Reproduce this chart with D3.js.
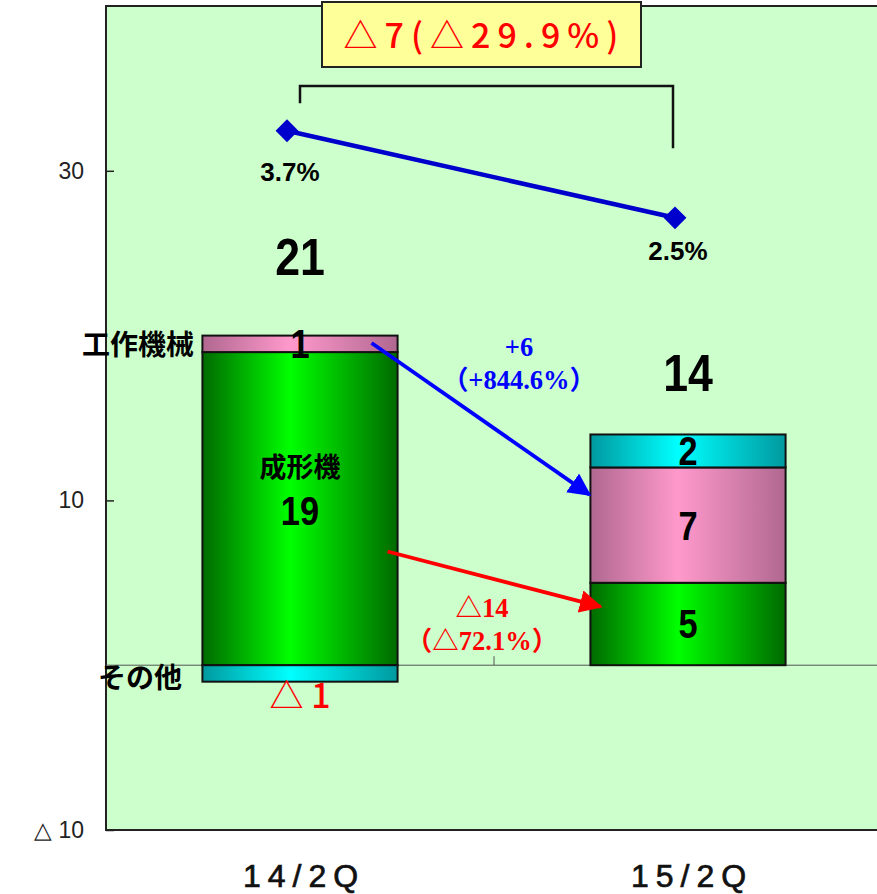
<!DOCTYPE html>
<html>
<head>
<meta charset="utf-8">
<title>受注高推移</title>
<style>
  body { margin: 0; background: #fff; }
  svg text { font-family: "Noto Sans CJK JP", "Noto Sans", sans-serif; }
  .num { font-family: "Liberation Sans", Arial, sans-serif !important; font-weight: bold; }
  .arial { font-family: "Liberation Sans", Arial, sans-serif !important; }
  .serif { font-family: "Liberation Serif", "Noto Sans CJK JP", serif !important; font-weight: bold; }
</style>
</head>
<body>
<svg id="chart" width="877" height="894"></svg>
<script src="https://cdn.jsdelivr.net/npm/d3@7/dist/d3.min.js"></script>
<script>
// data
const categories = ['14/2Q', '15/2Q'];
const segments = ['その他', '成形機', '工作機械'];
const other   = [-1, 2];
const molding = [19, 5];
const machine = [1, 7];
const totals  = [21, 14];
const totalLabels = ['21', '14'];
const ratio = [3.7, 2.5];
const ratioLabels = ['3.7%', '2.5%'];
const yTicks = [-10, 10, 30];
const yTickLabels = ['△ 10', '10', '30'];
const diffLabel = '△7(△29.9%)';
const machineChange = ['+6', '（+844.6%）'];
const moldingChange = ['△14', '（△72.1%）'];

const svg = d3.select('#chart');
const pLeft = 106, pTop = 6, pBottom = 830, pRight = 882;

const x = d3.scaleBand().domain(categories).range([pLeft, pRight]).padding(0);
const y = d3.scaleLinear().domain([-10, 40]).range([pBottom, pTop]);
const y2 = d3.scaleLinear().domain([-5.94, 5.42]).range([pBottom, pTop]);
const barW = x.bandwidth() * 0.503;
const barX = c => x(c) + (x.bandwidth() - barW) / 2;
const cx = c => x(c) + x.bandwidth() / 2;

// gradients
const defs = svg.append('defs');
function grad(id, edge, mid) {
  const g = defs.append('linearGradient').attr('id', id).attr('x1', 0).attr('x2', 1).attr('y1', 0).attr('y2', 0);
  g.append('stop').attr('offset', '0%').attr('stop-color', edge);
  g.append('stop').attr('offset', '45%').attr('stop-color', mid);
  g.append('stop').attr('offset', '100%').attr('stop-color', edge);
}
grad('gGreen', '#006a00', '#00ff00');
grad('gPink', '#b06890', '#ff99cc');
grad('gCyan', '#00999f', '#00ffff');
const fills = { 'その他': 'url(#gCyan)', '成形機': 'url(#gGreen)', '工作機械': 'url(#gPink)' };

// plot background
svg.append('rect').attr('x', pLeft).attr('y', pTop).attr('width', pRight - pLeft).attr('height', pBottom - pTop)
  .attr('fill', '#ccffcc').attr('stroke', '#222').attr('stroke-width', 2);

// zero line
svg.append('line').attr('x1', pLeft).attr('x2', pRight).attr('y1', y(0)).attr('y2', y(0))
  .attr('stroke', '#555').attr('stroke-width', 1);
svg.append('line').attr('x1', x(categories[1])).attr('x2', x(categories[1]))
  .attr('y1', y(0)).attr('y2', y(0) - 9).attr('stroke', '#555');

// y axis
const yAxis = svg.append('g').attr('transform', `translate(${pLeft},0)`)
  .call(d3.axisRight(y).tickValues(yTicks).tickSize(8).tickFormat(''));
yAxis.select('.domain').remove();
yAxis.selectAll('line').attr('stroke', '#222').attr('stroke-width', 1.5);
svg.append('g').selectAll('text').data(yTicks).join('text')
  .attr('class', 'arial')
  .attr('x', 84).attr('y', d => y(d)).attr('dy', '0.35em').attr('text-anchor', 'end')
  .attr('font-size', 23).attr('fill', '#222')
  .text((d, i) => yTickLabels[i]);

// stacked bars
const bars = svg.append('g');
categories.forEach((c, i) => {
  const stack = [
    { s: '成形機', y0: 0, y1: molding[i] },
    { s: '工作機械', y0: molding[i], y1: molding[i] + machine[i] },
    other[i] < 0
      ? { s: 'その他', y0: other[i], y1: 0 }
      : { s: 'その他', y0: molding[i] + machine[i], y1: molding[i] + machine[i] + other[i] }
  ];
  bars.selectAll(null).data(stack).join('rect')
    .attr('x', barX(c)).attr('width', barW)
    .attr('y', d => y(d.y1)).attr('height', d => y(d.y0) - y(d.y1))
    .attr('fill', d => fills[d.s]).attr('stroke', '#111').attr('stroke-width', 2);
});

// condensed bold numbers (Arial Narrow look)
const num = (g, xv, yv, t, size) => g.append('text').attr('class', 'num')
  .attr('transform', `translate(${xv},${yv}) scale(0.86,1)`)
  .attr('dy', '0.36em').attr('text-anchor', 'middle').attr('font-size', size).text(t);

// segment labels
const seg = svg.append('g');
num(seg, cx(categories[0]), y(molding[0] + machine[0] / 2), machine[0], 40);
num(seg, cx(categories[0]), y(9.4), molding[0], 40);
num(seg, cx(categories[1]), y(molding[1] + machine[1] + other[1] / 2), other[1], 40);
num(seg, cx(categories[1]), y(molding[1] + machine[1] / 2), machine[1], 40);
num(seg, cx(categories[1]), y(molding[1] / 2), molding[1], 40);
seg.append('text').attr('x', cx(categories[0])).attr('y', y(12.0)).attr('dy', '0.35em')
  .attr('text-anchor', 'middle').attr('font-size', 27).attr('font-weight', 'bold').text(segments[1]);
svg.append('text').attr('x', cx(categories[0])).attr('y', y(other[0]) + 14).attr('dy', '0.35em')
  .attr('text-anchor', 'middle').attr('font-size', 34).attr('font-weight', 500).attr('fill', '#ff0000')
  .text('△ ' + Math.abs(other[0]));

// totals
const tot = svg.append('g');
categories.forEach((c, i) => num(tot, cx(c), y(totals[i] + 3.8), totalLabels[i], 52));

// segment names on left
svg.append('text').attr('x', 194).attr('y', y(molding[0] + machine[0] / 2) + 1).attr('dy', '0.35em')
  .attr('text-anchor', 'end').attr('font-size', 28).attr('font-weight', 'bold').text(segments[2]);
svg.append('text').attr('x', 182).attr('y', y(other[0]) - 3).attr('dy', '0.35em')
  .attr('text-anchor', 'end').attr('font-size', 28).attr('font-weight', 'bold').text(segments[0]);

// ratio line
const lx = c => cx(c) - 13;
svg.append('path').datum(categories)
  .attr('d', d3.line().x(c => lx(c)).y((c, i) => y2(ratio[i])))
  .attr('fill', 'none').attr('stroke', '#0000cc').attr('stroke-width', 4.5);
svg.append('g').selectAll('path').data(categories).join('path')
  .attr('d', d3.symbol(d3.symbolSquare, 260))
  .attr('transform', (c, i) => `translate(${lx(c)},${y2(ratio[i])}) rotate(45)`)
  .attr('fill', '#0000cc');
const ratioLabelDy = [41, 33];
svg.append('g').selectAll('text').data(categories).join('text')
  .attr('class', 'arial')
  .attr('x', c => lx(c) + 3).attr('y', (c, i) => y2(ratio[i]) + ratioLabelDy[i]).attr('dy', '0.36em')
  .attr('text-anchor', 'middle').attr('font-size', 26).attr('font-weight', 'bold')
  .text((c, i) => ratioLabels[i]);

// bracket and difference box
const bx0 = cx(categories[0]), bx1 = lx(categories[1]) - 2;
svg.append('path')
  .attr('d', `M${bx0},${y2(4.08)} V${y2(4.317)} H${bx1} V${y2(3.46)}`)
  .attr('fill', 'none').attr('stroke', '#111').attr('stroke-width', 2.5);
svg.append('rect').attr('x', 322).attr('y', 2).attr('width', 319).attr('height', 65)
  .attr('fill', '#ffff99').attr('stroke', '#222').attr('stroke-width', 2);
svg.append('text').attr('x', 481 + 3.5).attr('y', 36).attr('dy', '0.35em').attr('text-anchor', 'middle')
  .attr('font-size', 34).attr('font-weight', 500).attr('fill', '#ff0000').attr('letter-spacing', 7)
  .text(diffLabel);

// change arrows
const marker = (id, color) => defs.append('marker').attr('id', id).attr('viewBox', '0 0 10 10')
  .attr('refX', 9).attr('refY', 5).attr('markerWidth', 6).attr('markerHeight', 6)
  .attr('markerUnits', 'strokeWidth').attr('orient', 'auto')
  .append('path').attr('d', 'M0,0 L10,5 L0,10 z').attr('fill', color);
marker('arrBlue', '#0000ff');
marker('arrRed', '#ff0000');
svg.append('line')
  .attr('x1', barX(categories[0]) + barW - 26).attr('y1', y(19.55))
  .attr('x2', barX(categories[1]) - 1).attr('y2', y(10.35))
  .attr('stroke', '#0000ff').attr('stroke-width', 3.8).attr('marker-end', 'url(#arrBlue)');
svg.append('line')
  .attr('x1', barX(categories[0]) + barW - 10).attr('y1', y(6.9))
  .attr('x2', barX(categories[1]) + 10).attr('y2', y(3.55))
  .attr('stroke', '#ff0000').attr('stroke-width', 3.8).attr('marker-end', 'url(#arrRed)');

svg.append('g').selectAll('text').data(machineChange).join('text')
  .attr('class', 'serif')
  .attr('x', 519).attr('y', (d, i) => 347 + i * 33).attr('dy', '0.35em').attr('text-anchor', 'middle')
  .attr('font-size', 26.5).attr('fill', '#0000ff').text(d => d);
svg.append('g').selectAll('text').data(moldingChange).join('text')
  .attr('class', 'serif')
  .attr('x', 482).attr('y', (d, i) => 608 + i * 33).attr('dy', '0.35em').attr('text-anchor', 'middle')
  .attr('font-size', 26.5).attr('fill', '#ff0000').text(d => d);

// category labels
svg.append('g').selectAll('text').data(categories).join('text')
  .attr('class', 'arial')
  .attr('x', c => cx(c) + 4).attr('y', 875).attr('dy', '0.36em').attr('text-anchor', 'middle')
  .attr('font-size', 32).attr('letter-spacing', 7).attr('fill', '#111')
  .attr('stroke', '#111').attr('stroke-width', 0.7)
  .text(c => c);
</script>
</body>
</html>
